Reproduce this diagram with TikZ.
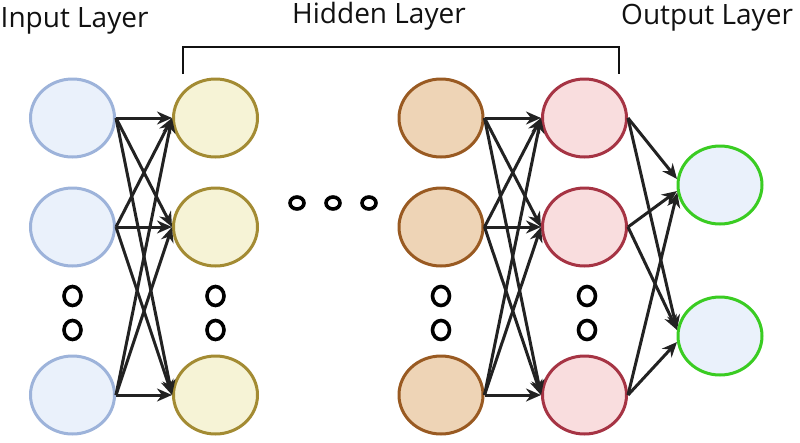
\documentclass[tikz,border=0pt]{standalone}
\usepackage{fontspec}
\setmainfont{Open Sans}
\usetikzlibrary{arrows.meta,shapes.geometric}
\definecolor{inF}{HTML}{EAF1FB}\definecolor{inD}{HTML}{9DB3DA}
\definecolor{h1F}{HTML}{F6F3D6}\definecolor{h1D}{HTML}{A38B33}
\definecolor{h2F}{HTML}{EED4B6}\definecolor{h2D}{HTML}{995A22}
\definecolor{h3F}{HTML}{F9DDDE}\definecolor{h3D}{HTML}{A63444}
\definecolor{outF}{HTML}{EAF1FB}\definecolor{outD}{HTML}{3ACC22}
\definecolor{edge}{HTML}{222222}
\definecolor{txt}{HTML}{111111}
\begin{document}
\begin{tikzpicture}[x=1pt,y=-1pt,
  neuron/.style={ellipse,draw,line width=3pt,minimum width=84pt,minimum height=78pt,inner sep=0pt},
  inn/.style={neuron,fill=inF,draw=inD},
  hone/.style={neuron,fill=h1F,draw=h1D},
  htwo/.style={neuron,fill=h2F,draw=h2D},
  hthree/.style={neuron,fill=h3F,draw=h3D},
  outn/.style={neuron,fill=outF,draw=outD},
  conn/.style={draw=edge,line width=3pt,-{Stealth[length=15pt,width=13pt]}},
  vdot/.style={draw=black,line width=3.6pt},
  lbl/.style={font=\fontsize{28}{32}\selectfont,text=txt,inner sep=0pt,anchor=base west}]
\useasboundingbox (0,0) rectangle (800,442);
% labels
\node[lbl] (tin) at (0.5,27) {Input Layer};
\node[lbl] (thid) at (292,23) {Hidden Layer};
\node[lbl] (tout) at (621,24) {Output Layer};
% bracket
\coordinate (bl) at (183,74);
\coordinate (br) at (619,74);
\draw[line width=2.6pt,draw=txt] (bl) -- (183,47) -- (619,47) -- (br);
% neurons
\foreach \i/\y in {1/118,2/227,3/395}{
  \node[inn] (a\i) at (72.5,\y) {};
  \node[hone] (b\i) at (215.5,\y) {};
  \node[htwo] (c\i) at (441,\y) {};
  \node[hthree] (d\i) at (584.5,\y) {};
}
\node[outn] (o1) at (720,185) {};
\node[outn] (o2) at (720,336) {};
% edges
\foreach \i in {1,2,3}{
  \foreach \j in {1,2,3}{
    \draw[conn] (a\i.east) -- (b\j.west);
    \draw[conn] (c\i.east) -- (d\j.west);
  }
}
\draw[conn] (d1.east) -- (o1.172);
\draw[conn] (d2.east) -- (o1.188);
\draw[conn] (d3.east) -- (o1.190);
\draw[conn] (d1.east) -- (o2.172);
\draw[conn] (d2.east) -- (o2.172);
\draw[conn] (d3.east) -- (o2.188);
% dots
\foreach \x in {72.5,215.5,441,587}{
  \draw[vdot] (\x,296) ellipse (8.5pt and 9.5pt);
  \draw[vdot] (\x,330) ellipse (8.5pt and 9.5pt);
}
\foreach \x in {297,333,369}{
  \draw[vdot] (\x,203) ellipse (7pt and 6pt);
}
\end{tikzpicture}
\end{document}
